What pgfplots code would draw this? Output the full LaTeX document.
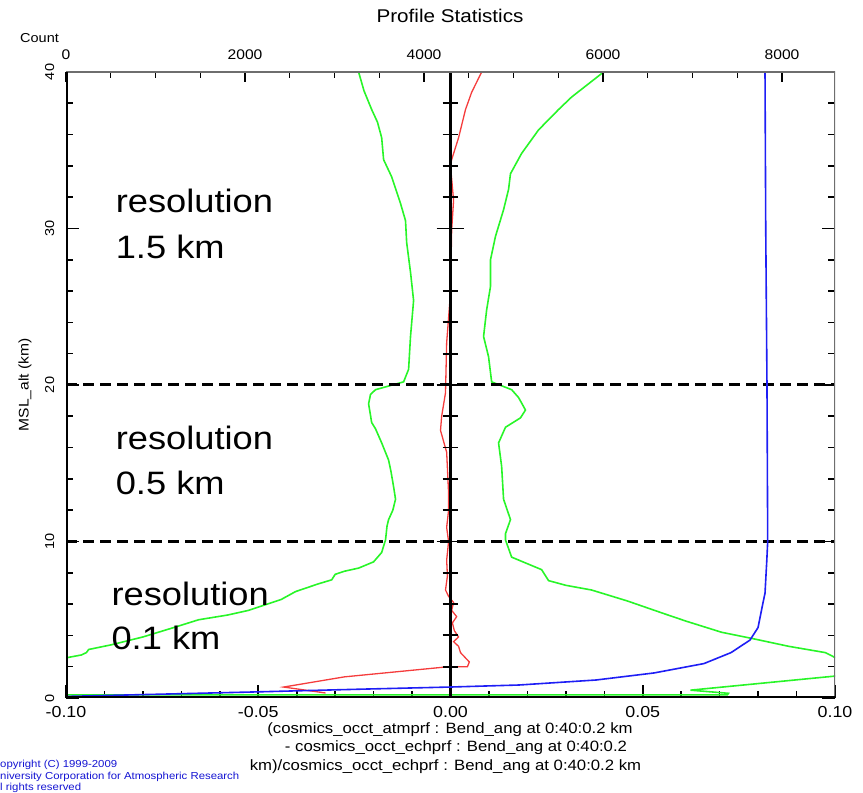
\documentclass[border=0pt]{standalone}
\usepackage{fontspec}
\setmainfont{Liberation Sans}[FakeStretch=1.12]
\usepackage{pgfplots}
\pgfplotsset{compat=1.18}
\definecolor{cgreen}{RGB}{40,245,40}
\definecolor{cred}{RGB}{245,60,60}
\definecolor{cblue}{RGB}{30,30,245}
\definecolor{frgray}{RGB}{110,110,110}
\definecolor{cpblue}{RGB}{20,20,210}
\newcommand\fs[1]{\fontsize{#1}{#1}\selectfont}

\pgfplotstableread{
x y
-0.110 2.40
-0.1001 2.56
-0.0960 2.75
-0.0947 2.90
-0.0941 3.10
-0.0882 3.40
-0.0800 3.90
-0.0720 4.50
-0.0655 5.00
-0.0580 5.30
-0.0525 5.60
-0.0440 6.30
-0.0403 6.80
-0.0343 7.30
-0.0309 7.55
-0.0300 7.90
-0.0276 8.10
-0.0239 8.30
-0.0200 8.70
-0.0179 9.30
-0.0169 10.1
-0.0165 11.0
-0.0161 11.4
-0.0150 12.0
-0.0143 12.7
-0.0148 13.5
-0.0155 14.5
-0.0161 15.2
-0.0179 16.3
-0.0195 17.2
-0.0205 17.6
-0.0213 18.8
-0.0208 19.4
-0.0195 19.7
-0.0122 20.2
-0.0109 21.0
-0.0104 23.1
-0.0096 25.4
-0.0104 27.2
-0.0114 29.1
-0.0117 30.5
-0.0130 31.6
-0.0153 33.3
-0.0174 34.4
-0.0179 35.8
-0.0190 36.8
-0.0205 37.6
-0.0225 38.8
-0.0239 40.0
}\greenleft

\pgfplotstableread{
x y
-0.120 0.20
0.0720 0.20
0.0723 0.30
0.0624 0.50
0.1000 1.40
0.1150 2.00
0.0999 2.60
0.0975 2.90
0.0880 3.30
0.0785 3.80
0.0705 4.20
0.0614 4.90
0.0554 5.40
0.0460 6.20
0.0420 6.50
0.0367 6.90
0.0300 7.20
0.0255 7.50
0.0237 8.20
0.0159 9.00
0.0143 10.1
0.0143 10.5
0.0156 11.4
0.0138 12.7
0.0133 14.8
0.0125 16.3
0.0143 17.3
0.0182 17.9
0.0195 18.4
0.0177 19.2
0.0159 19.7
0.0107 20.2
0.0099 21.8
0.0086 23.1
0.0094 24.8
0.0104 26.3
0.0104 28.0
0.0117 29.5
0.0138 31.2
0.0151 32.5
0.0156 33.5
0.0185 34.8
0.0229 36.3
0.0281 37.6
0.0315 38.4
0.0393 39.9
0.0400 40.0
}\greenright

\pgfplotstableread{
x y
-0.0325 0.32
-0.0434 0.70
-0.0276 1.35
-0.0005 2.00
0.0044 2.00
0.0049 2.30
0.0026 2.90
0.0021 3.30
0.0008 3.60
0.0021 3.90
0.0010 4.30
0.0005 4.80
0.0016 5.20
0.0003 5.60
0.0008 6.10
-0.0005 6.50
-0.0013 6.90
-0.0008 7.80
-0.0010 8.80
-0.0005 10.0
-0.0010 10.9
-0.0005 12.0
-0.0005 13.1
-0.0010 15.7
-0.0026 17.1
-0.0023 18.0
-0.0013 19.5
-0.0010 22.7
0.0000 25.9
0.0003 29.9
0.0008 31.8
0.0000 34.0
0.0003 34.4
0.0021 35.8
0.0039 37.6
0.0055 38.7
0.0081 40.0
}\redmean

\pgfplotstableread{
c y
0 0.10
2056 0.38
3341 0.57
4290 0.70
5061 0.83
5922 1.15
6570 1.60
7128 2.20
7430 2.90
7642 3.70
7732 4.50
7788 6.10
7810 6.70
7830 8.80
7840 10.0
7832 20.0
7818 30.0
7810 40.0
}\bluecount

\begin{document}
\begin{tikzpicture}
\path[use as bounding box] (0,0) rectangle (863bp,793bp);
\begin{axis}[
  at={(66bp,95bp)}, anchor=south west,
  scale only axis, width=769bp, height=626bp,
  xmin=-0.1, xmax=0.1, ymin=0, ymax=40,
  axis line style={draw=none},
  xtick={-0.1,-0.05,0,0.05,0.1},
  xticklabels={-0.10,-0.05,0.00,0.05,0.10},
  minor x tick num=4,
  ytick={0,10,20,30,40},
  yticklabels={0,10,20,30,40},
  minor y tick num=4,
  tick align=inside,
  xtick pos=bottom,
  ytick pos=both, yticklabel pos=left,
  major tick length=13bp, minor tick length=7bp,
  every tick/.style={black, line width=1.6bp},
  xticklabel style={font=\fs{16}, anchor=base},
  xticklabel shift=20bp,
  yticklabel style={font=\fs{13}, rotate=90, anchor=base},
  yticklabel shift=12bp,
]
\addplot[cgreen, line width=1.6bp] table[x=x,y=y] {\greenleft};
\addplot[cgreen, line width=1.6bp] table[x=x,y=y] {\greenright};
\addplot[cred, line width=1.3bp] table[x=x,y=y] {\redmean};
\draw[black, line width=3bp, dash pattern=on 11bp off 6bp] (axis cs:-0.1,10) -- (axis cs:0.1,10);
\draw[black, line width=3bp, dash pattern=on 11bp off 6bp] (axis cs:-0.1,20) -- (axis cs:0.1,20);
\draw[black, line width=2.5bp] (axis cs:0,0) -- (axis cs:0,40);
\pgfplotsinvokeforeach{2,4,6,8,12,14,16,18,22,24,26,28,32,34,36,38}{
  \draw[black, line width=1.8bp] ([xshift=-8bp]axis cs:0,#1) -- ([xshift=7bp]axis cs:0,#1);
}
\pgfplotsinvokeforeach{0,10,20,30,40}{
  \draw[black, line width=1.8bp] ([xshift=-14bp]axis cs:0,#1) -- ([xshift=13bp]axis cs:0,#1);
}
\node[anchor=base west, inner sep=0pt, font=\fs{32.5}] at (axis cs:-0.0871,31.0) {resolution};
\node[anchor=base west, inner sep=0pt, font=\fs{32.5}] at (axis cs:-0.0871,28.1) {1.5 km};
\node[anchor=base west, inner sep=0pt, font=\fs{32.5}] at (axis cs:-0.0871,15.85) {resolution};
\node[anchor=base west, inner sep=0pt, font=\fs{32.5}] at (axis cs:-0.0871,13.0) {0.5 km};
\node[anchor=base west, inner sep=0pt, font=\fs{32.5}] at (axis cs:-0.0882,5.9) {resolution};
\node[anchor=base west, inner sep=0pt, font=\fs{32.5}] at (axis cs:-0.0882,3.07) {0.1 km};
\end{axis}
\begin{axis}[
  at={(66bp,95bp)}, anchor=south west,
  scale only axis, width=769bp, height=626bp,
  xmin=0, xmax=8592, ymin=0, ymax=40,
  axis x line*=top, hide y axis,
  x axis line style={draw=none},
  xtick={0,2000,4000,6000,8000},
  xticklabels={0,2000,4000,6000,8000},
  minor x tick num=3,
  tick align=inside,
  major tick length=10bp, minor tick length=6bp,
  every tick/.style={black, line width=1.3bp},
  xticklabel style={font=\fs{14}, anchor=base},
  xticklabel shift=12bp,
]
\addplot[cblue, line width=1.6bp] table[x=c,y=y] {\bluecount};
\draw[frgray, line width=2.5bp] (rel axis cs:0,1) -- (rel axis cs:1,1) -- (rel axis cs:1,0);
\draw[black, line width=3bp] (rel axis cs:1,0) -- (rel axis cs:0,0) -- (rel axis cs:0,1);
\end{axis}
\node[anchor=base, inner sep=0pt, font=\fs{18.5}] at (450bp,770bp) {Profile Statistics};
\node[anchor=base west, inner sep=0pt, font=\fs{13}] at (20bp,750bp) {Count};
\node[rotate=90, inner sep=0pt, font=\fs{14}] at (25bp,408bp) {MSL\_alt (km)};
\node[anchor=base, inner sep=0pt, font=\fs{15}] at (450bp,59bp) {(cosmics\_occt\_atmprf : Bend\_ang at 0:40:0.2 km};
\node[anchor=base, inner sep=0pt, font=\fs{15}] at (456bp,41bp) {- cosmics\_occt\_echprf : Bend\_ang at 0:40:0.2};
\node[anchor=base, inner sep=0pt, font=\fs{15}] at (445.5bp,23bp) {km)/cosmics\_occt\_echprf : Bend\_ang at 0:40:0.2 km};
\node[anchor=base west, inner sep=0pt, font=\fs{10.2}, text=cpblue] at (0bp,26bp) {opyright (C) 1999-2009};
\node[anchor=base west, inner sep=0pt, font=\fs{10.2}, text=cpblue] at (0bp,14bp) {niversity Corporation for Atmospheric Research};
\node[anchor=base west, inner sep=0pt, font=\fs{10.2}, text=cpblue] at (0bp,3bp) {l rights reserved};
\end{tikzpicture}
\end{document}
